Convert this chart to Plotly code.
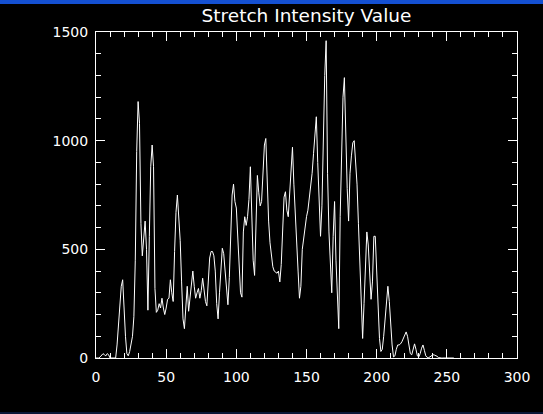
import plotly.graph_objects as go

# Histogram of stretched intensity values (bin = 1, 0..255)
intensity = list(range(256))
counts = [
    0, 0, 0, 5, 15, 20, 15, 10, 20, 15,            # 0-9
    0, 0, 0, 0, 0, 60, 150, 240, 330, 360,         # 10-19
    200, 100, 20, 10, 30, 60, 100, 190, 450, 950,  # 20-29
    1180, 1080, 620, 470, 560, 630, 500, 220, 560, 880,  # 30-39
    980, 880, 320, 210, 220, 250, 230, 275, 230, 200,    # 40-49
    230, 270, 275, 360, 300, 260, 490, 670, 750, 660,    # 50-59
    540, 350, 180, 135, 240, 330, 215, 280, 350, 400,    # 60-69
    330, 275, 300, 320, 275, 310, 367, 300, 260, 240,    # 70-79
    350, 460, 490, 490, 470, 400, 250, 180, 300, 420,    # 80-89
    505, 480, 400, 330, 245, 370, 570, 750, 800, 720,    # 90-99
    690, 560, 400, 300, 280, 580, 650, 610, 650, 730,    # 100-109
    880, 700, 450, 380, 650, 840, 760, 700, 720, 880,    # 110-119
    980, 1010, 800, 630, 530, 475, 420, 400, 395, 390,   # 120-129
    400, 350, 430, 600, 740, 765, 680, 650, 760, 880,    # 130-139
    970, 800, 640, 480, 400, 275, 330, 500, 560, 610,    # 140-149
    650, 680, 740, 780, 850, 940, 1030, 1110, 900, 700,  # 150-159
    560, 700, 1050, 1300, 1460, 850, 580, 400, 300, 560, # 160-169
    720, 450, 250, 135, 650, 1000, 1200, 1290, 1000, 780,  # 170-179
    630, 850, 930, 990, 1000, 900, 800, 620, 450, 300,   # 180-189
    90, 250, 470, 580, 520, 400, 270, 350, 560, 560,     # 190-199
    400, 220, 90, 30, 40, 100, 180, 280, 330, 260,       # 200-209
    150, 60, 5, 10, 40, 60, 60, 65, 75, 90,              # 210-219
    110, 120, 100, 60, 20, 15, 40, 65, 40, 10,           # 220-229
    5, 20, 45, 60, 35, 10, 3, 2, 5, 10,                  # 230-239
    15, 14, 12, 8, 2, 0, 0, 0, 0, 0,                     # 240-249
    0, 0, 0, 0, 0, 0,                                    # 250-255
]

title_text = "Stretch Intensity Value"
x_range = [0, 300]
y_range = [0, 1500]
x_ticks = [0, 50, 100, 150, 200, 250, 300]
y_ticks = [0, 500, 1000, 1500]

W, H = 543, 414
ML, MR, MT, MB = 96, 26, 32, 56
PW, PH = W - ML - MR, H - MT - MB

fig = go.Figure()
fig.add_trace(go.Scatter(
    x=intensity, y=counts, mode="lines",
    line=dict(color="#ffffff", width=1),
    hoverinfo="skip", showlegend=False,
))

axis_common = dict(
    showgrid=False, zeroline=False,
    showline=True, linecolor="#ffffff", linewidth=1,
    mirror="allticks", ticks="inside", ticklen=9, tickwidth=1,
    tickcolor="#ffffff",
    tickfont=dict(family="DejaVu Sans", size=14, color="#ffffff"),
)

fig.update_xaxes(
    range=x_range, tickvals=x_ticks, ticktext=[str(v) for v in x_ticks],
    minor=dict(ticks="inside", ticklen=5, dtick=10, tickcolor="#ffffff", showgrid=False),
    ticklabelstandoff=6,
    **axis_common,
)
fig.update_yaxes(
    range=y_range, tickvals=y_ticks, ticktext=[str(v) for v in y_ticks],
    minor=dict(ticks="inside", ticklen=5, dtick=100, tickcolor="#ffffff", showgrid=False),
    ticklabelstandoff=4,
    **axis_common,
)

def px_x(p):
    return (p - ML) / PW

def px_y(p_from_top):
    return (H - MB - p_from_top) / PH

shapes = [
    # window title-bar edge at the very top
    dict(type="rect", xref="paper", yref="paper", layer="above",
         x0=px_x(-2), x1=px_x(W + 2), y0=px_y(4), y1=px_y(-2),
         fillcolor="#1450d2", line=dict(width=0)),
    # dark frame at bottom
    dict(type="rect", xref="paper", yref="paper", layer="above",
         x0=px_x(-2), x1=px_x(W + 2), y0=px_y(H + 2), y1=px_y(H - 2),
         fillcolor="#0b1838", line=dict(width=0)),
]

fig.update_layout(
    width=W, height=H,
    margin=dict(l=ML, r=MR, t=MT, b=MB),
    paper_bgcolor="#000000", plot_bgcolor="#000000",
    title=dict(text=title_text, x=(ML + PW / 2) / W, xanchor="center",
               y=1 - 16 / H, yanchor="middle",
               font=dict(family="DejaVu Sans", size=18.5, color="#ffffff")),
    shapes=shapes,
)

fig.write_html(
    "out.html",
    config={"displayModeBar": False, "staticPlot": True},
    post_script="document.body.style.margin='0';"
                "document.body.style.padding='0';"
                "document.body.style.background='#000000';"
                "document.body.style.overflow='hidden';",
)
